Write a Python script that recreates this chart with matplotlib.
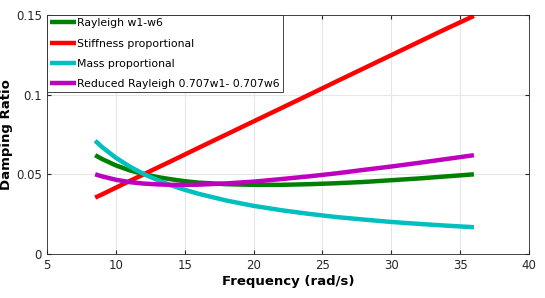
import numpy as np
import matplotlib
matplotlib.use("Agg")
import matplotlib.pyplot as plt

freq = [8.5, 9, 10, 11, 12, 13, 14, 15, 16, 18, 20, 22, 24, 26, 28, 30, 32, 34, 36]

rayleigh = [0.0620, 0.0596, 0.0556, 0.0525, 0.0502, 0.0483, 0.0469, 0.0457, 0.0448,
            0.0438, 0.0434, 0.0434, 0.0438, 0.0444, 0.0452, 0.0463, 0.0474, 0.0487, 0.0500]
stiffness = [0.0354, 0.0374, 0.0416, 0.0458, 0.0499, 0.0541, 0.0582, 0.0624, 0.0666,
             0.0749, 0.0832, 0.0915, 0.0998, 0.1082, 0.1165, 0.1248, 0.1331, 0.1414, 0.1494]
mass = [0.0711, 0.0671, 0.0604, 0.0549, 0.0503, 0.0465, 0.0431, 0.0403, 0.0378,
        0.0336, 0.0302, 0.0275, 0.0252, 0.0232, 0.0216, 0.0201, 0.0189, 0.0178, 0.0168]
reduced = [0.0500, 0.0487, 0.0466, 0.0451, 0.0442, 0.0437, 0.0434, 0.0434, 0.0435,
           0.0443, 0.0454, 0.0470, 0.0487, 0.0506, 0.0528, 0.0549, 0.0572, 0.0596, 0.0620]

labels = ["Rayleigh w1-w6", "Stiffness proportional", "Mass proportional",
          "Reduced Rayleigh 0.707w1- 0.707w6"]
colors = ["#008000", "#ff0000", "#00bfbf", "#bf00bf"]

plt.rcParams["font.family"] = ["DejaVu Sans"]

fig = plt.figure(figsize=(5.45, 2.98), dpi=100)
ax = fig.add_axes([0.0862, 0.1477, 0.8844, 0.802])

for ys, lab, c in zip([rayleigh, stiffness, mass, reduced], labels, colors):
    ax.plot(freq, ys, color=c, lw=3.2, label=lab, solid_capstyle="butt")

ax.set_xlim(5, 40)
ax.set_ylim(0, 0.15)
ax.set_xticks([5, 10, 15, 20, 25, 30, 35, 40])
ax.set_yticks([0, 0.05, 0.1, 0.15])
ax.set_yticklabels(["0", "0.05", "0.1", "0.15"])
ax.grid(True, color="#e6e6e6", lw=0.8)
ax.set_axisbelow(True)
ax.tick_params(direction="in", length=3, labelsize=8.5, colors="#262626",
               top=True, right=True)
for s in ax.spines.values():
    s.set_color("#262626")
    s.set_linewidth(0.6)

ax.set_xlabel("Frequency (rad/s)", fontsize=9.5, fontweight="bold", labelpad=2)
ax.set_ylabel("Damping Ratio", fontsize=9.5, fontweight="bold", labelpad=2)

leg = ax.legend(loc="upper left", fontsize=7.8, handlelength=2.4, handletextpad=0.05,
                borderaxespad=0, borderpad=0.3, labelspacing=0.95, fancybox=False,
                framealpha=1, edgecolor="#262626")
leg.get_frame().set_linewidth(0.6)

fig.savefig("out.png", dpi=100)
